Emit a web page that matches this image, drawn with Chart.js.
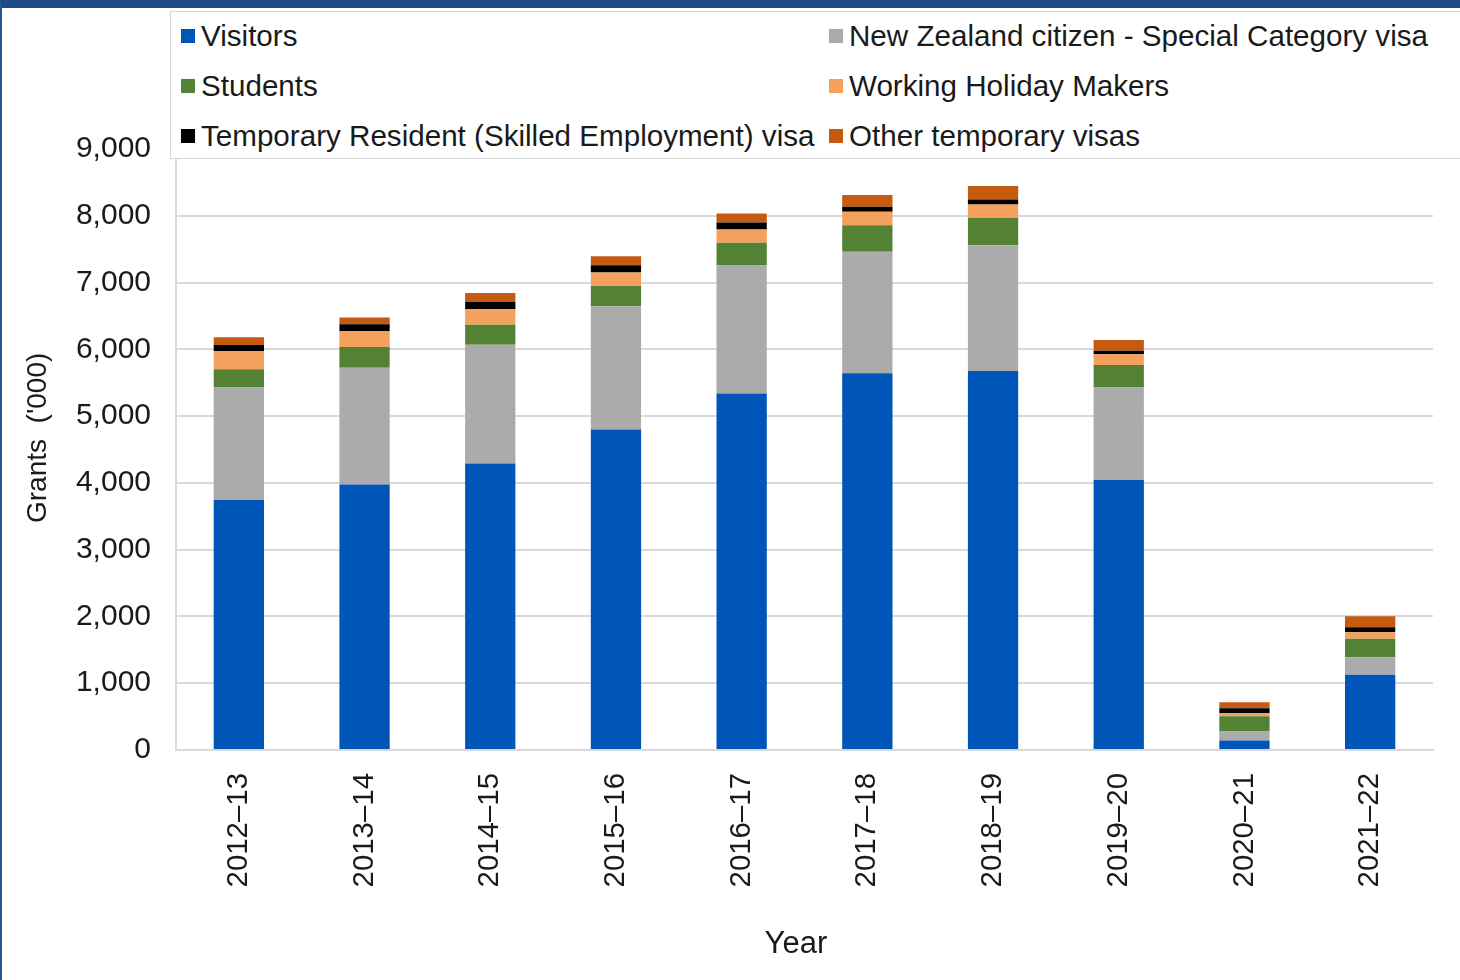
<!DOCTYPE html>
<html>
<head>
<meta charset="utf-8">
<script src="https://cdn.jsdelivr.net/npm/chart.js@4/dist/chart.umd.min.js"></script>
<style>
  html, body { margin: 0; padding: 0; background: #fff; }
  #wrap { position: relative; width: 1460px; height: 980px; overflow: hidden; }
  #myChart { position: absolute; left: 0; top: 0; }
  #frame { position: absolute; left: 0; top: 0; width: 1460px; height: 980px; box-sizing: border-box;
           border-top: 8px solid #1f4a8a; border-left: 2px solid #2b579a; pointer-events: none; }
  #legend { position: absolute; left: 170px; top: 11px; width: 1300px; height: 148px; background: #fff;
            border: 1px solid #d6d6d6; box-sizing: border-box;
            font-family: "Liberation Sans", Arial, sans-serif; font-size: 29.6px; color: #1a1a1a; }
  .item { position: absolute; display: flex; align-items: center; height: 40px; white-space: nowrap; }
  .box { width: 14px; height: 14px; margin-right: 6px; }
</style>
</head>
<body>
<div id="wrap">
  <canvas id="myChart" width="1460" height="980"></canvas>
  <div id="legend"></div>
  <div id="frame"></div>
</div>
<script>
const years = ['2012–13','2013–14','2014–15','2015–16','2016–17','2017–18','2018–19','2019–20','2020–21','2021–22'];

const visitors  = [3745, 3975, 4290, 4800, 5340, 5640, 5675, 4045, 142, 1126];
const nzCitizen = [1685, 1750, 1780, 1845, 1915, 1820, 1885, 1385, 135, 263];
const students  = [270, 310, 300, 305, 340, 400, 410, 335, 229, 276];
const whm       = [275, 240, 230, 200, 200, 200, 200, 160, 45, 98];
const skilled   = [90, 100, 110, 110, 105, 75, 75, 55, 75, 75];
const other     = [115, 100, 135, 135, 135, 175, 200, 160, 90, 165];

const seriesNames = ['Visitors', 'New Zealand citizen - Special Category visa', 'Students',
                     'Working Holiday Makers', 'Temporary Resident (Skilled Employment) visa', 'Other temporary visas'];
const seriesColors = ['#0055b8', '#ababab', '#548235', '#f4a15e', '#000000', '#c55a11'];
const seriesData = [visitors, nzCitizen, students, whm, skilled, other];

const yTicks = [0, 1000, 2000, 3000, 4000, 5000, 6000, 7000, 8000, 9000];

const FONT = '"Liberation Sans", Arial, sans-serif';
const TXT = '#1a1a1a';

// legend (two columns, filled row by row)
const legend = document.getElementById('legend');
seriesNames.forEach((name, i) => {
    const col = i % 2, row = Math.floor(i / 2);
    const el = document.createElement('div');
    el.className = 'item';
    el.style.left = (col === 0 ? 10 : 658) + 'px';
    el.style.top = (4 + row * 50) + 'px';
    el.innerHTML = `<span class="box" style="background:${seriesColors[i]}"></span><span>${name}</span>`;
    legend.appendChild(el);
});

const ctx = document.getElementById('myChart');
const myChart = new Chart(ctx, {
    type: 'bar',
    data: {
        labels: years,
        datasets: seriesData.map((d, i) => ({
            label: seriesNames[i],
            data: d,
            backgroundColor: seriesColors[i],
            borderWidth: 0,
            categoryPercentage: 1,
            barPercentage: 0.4
        }))
    },
    options: {
        responsive: false,
        animation: false,
        layout: { padding: { left: 0, top: 149, right: 27, bottom: 0 } },
        plugins: { legend: { display: false }, tooltip: { enabled: false } },
        scales: {
            x: {
                stacked: true,
                grid: { display: false },
                border: { display: true, color: '#d9d9d9', width: 2 },
                ticks: { color: TXT, font: { family: FONT, size: 29.4 }, minRotation: 90, maxRotation: 90, padding: 15 },
                title: { display: true, text: 'Year  ', color: TXT, font: { family: FONT, size: 31 }, padding: { top: 0, bottom: 17 } },
                afterFit: (scale) => { scale.height = 230; }
            },
            y: {
                stacked: true,
                min: 0,
                max: 9000,
                afterBuildTicks: (scale) => { scale.ticks = yTicks.map(v => ({ value: v })); },
                grid: { color: '#d9d9d9', lineWidth: 2, drawTicks: false },
                border: { display: true, color: '#d9d9d9', width: 2 },
                ticks: { color: TXT, font: { family: FONT, size: 30 }, padding: 25,
                         callback: (v) => v.toLocaleString('en-US') },
                title: { display: true, text: "   Grants  ('000)", color: TXT, font: { family: FONT, size: 28 }, padding: { top: 21, bottom: 0 } },
                afterFit: (scale) => { scale.width = 176; }
            }
        }
    }
});
</script>
</body>
</html>
